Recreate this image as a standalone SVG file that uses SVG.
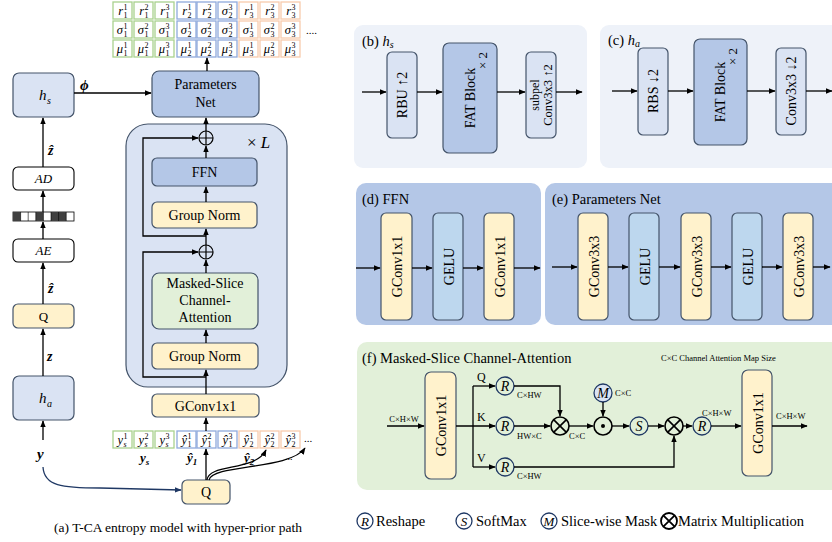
<svg xmlns="http://www.w3.org/2000/svg" width="832" height="542" viewBox="0 0 832 542">
<defs>
<marker id="ah" viewBox="0 0 10 10" refX="9" refY="5" markerWidth="7" markerHeight="7" markerUnits="userSpaceOnUse" orient="auto"><path d="M0,1 L10,5 L0,9 z" fill="#000"/></marker>
<marker id="ahb" viewBox="0 0 10 10" refX="9" refY="5" markerWidth="7" markerHeight="7" markerUnits="userSpaceOnUse" orient="auto"><path d="M0,1 L10,5 L0,9 z" fill="#1f3864"/></marker>
<style>
text{font-family:"Liberation Serif","Times New Roman",serif;fill:#000}
.ln{stroke:#000;stroke-width:1.3;fill:none}
.ar{marker-end:url(#ah)}
.lb{fill:#dae3f3;stroke:#44546a;stroke-width:1.2}
.mb{fill:#b4c7e7;stroke:#44546a;stroke-width:1.2}
.yl{fill:#fff2cc;stroke:#44546a;stroke-width:1.2}
.gr{fill:#e2f0d9;stroke:#44546a;stroke-width:1.2}
.ge{fill:#bdd7ee;stroke:#44546a;stroke-width:1.2}
.wh{fill:#fff;stroke:#000;stroke-width:1.1}
.t14{font-size:14px;text-anchor:middle}
.t13{font-size:13px;text-anchor:middle}
.it{font-style:italic}
.bi{font-style:italic;font-weight:bold}
.cg{fill:#fff;stroke:#a9d18e;stroke-width:1.3}
.cb{fill:#fff;stroke:#8faadc;stroke-width:1.3}
.co{fill:#fff;stroke:#f8cbad;stroke-width:1.3}
.L{font-size:12.5px;font-style:italic;text-anchor:end}
.ix{font-size:8px}
.sm{font-size:8.5px}
.rc{fill:none;stroke:#1f3864;stroke-width:1.3}
.title{font-size:14.5px}
</style>
</defs>

<!-- ===== (a) left column ===== -->
<g id="hs"><rect class="lb" x="13" y="73" width="61" height="44" rx="6"/><text x="39" y="100" font-size="15" class="it">h</text><text x="47" y="104" font-size="10" class="it">s</text></g>
<g id="AD"><rect class="wh" x="13" y="167" width="61" height="23" rx="5"/><text x="43.5" y="183" class="t13 it">AD</text></g>
<g id="bitstream">
<rect x="13" y="212" width="61" height="9" fill="#fff" stroke="#000" stroke-width="0.8"/>
<rect x="13" y="212" width="7.6" height="9" fill="#404040"/>
<rect x="35.8" y="212" width="7.6" height="9" fill="#404040"/>
<rect x="51" y="212" width="15.2" height="9" fill="#404040"/>
<path d="M20.6,212V221M28.2,212V221M35.8,212V221M43.4,212V221M51,212V221M58.6,212V221M66.2,212V221" stroke="#000" stroke-width="0.6"/>
</g>
<g id="AE"><rect class="wh" x="13" y="239" width="61" height="23" rx="5"/><text x="43.5" y="255" class="t13 it">AE</text></g>
<g id="Qz"><rect class="yl" x="13" y="304" width="61" height="24" rx="5"/><text x="43.5" y="321" class="t13">Q</text></g>
<g id="ha"><rect class="lb" x="13" y="376" width="61" height="44" rx="6"/><text x="39" y="403" font-size="15" class="it">h</text><text x="47" y="407" font-size="10" class="it">a</text></g>
<g id="labels-left">
<text x="48" y="155" font-size="14" class="bi">ẑ</text>
<text x="48" y="293" font-size="14" class="bi">ẑ</text>
<text x="47" y="361" font-size="14" class="bi">z</text>
<text x="37" y="459" font-size="15" class="bi">y</text>
<text x="80" y="90" font-size="15" class="bi">ϕ</text>
</g>

<!-- ===== (a) transformer stack ===== -->
<g id="stack"><rect x="126" y="124" width="161" height="263" rx="22" fill="#dae3f3" stroke="#44546a" stroke-width="1.2"/><text x="247" y="148" font-size="17">× <tspan class="it">L</tspan></text></g>
<g id="PN"><rect class="mb" x="152" y="71" width="107" height="46" rx="7"/><text x="205.5" y="89" class="t14">Parameters</text><text x="205.5" y="107" class="t14">Net</text></g>
<g id="FFN"><rect class="mb" x="152" y="158" width="105" height="28" rx="5"/><text x="204.5" y="177" class="t14">FFN</text></g>
<g id="GN1"><rect class="yl" x="152" y="202" width="105" height="26" rx="5"/><text x="204.5" y="220" class="t14">Group Norm</text></g>
<g id="MSCA"><rect class="gr" x="152" y="273" width="106" height="56" rx="7"/><text x="205" y="288" class="t14">Masked-Slice</text><text x="205" y="305" class="t14">Channel-</text><text x="205" y="322" class="t14">Attention</text></g>
<g id="GN2"><rect class="yl" x="152" y="343" width="106" height="26" rx="5"/><text x="205" y="361" class="t14">Group Norm</text></g>
<g id="GConvA"><rect class="yl" x="152" y="394" width="107" height="23" rx="5"/><text x="205.5" y="411" class="t14">GConv1x1</text></g>
<g id="add1"><circle cx="206" cy="138" r="7" fill="#dae3f3" stroke="#000" stroke-width="1.2"/><path d="M199,138H213M206,131V145" stroke="#000" stroke-width="1.2"/></g>
<g id="add2"><circle cx="206" cy="252" r="7" fill="#dae3f3" stroke="#000" stroke-width="1.2"/><path d="M199,252H213M206,245V259" stroke="#000" stroke-width="1.2"/></g>
<g id="Qy"><rect class="yl" x="182" y="480" width="48" height="24" rx="5"/><text x="206" y="497" class="t14">Q</text></g>

<!-- ===== parameter matrix ===== -->
<g id="matrix">
<rect class="cg" x="113" y="2" width="19" height="17"/><rect class="cg" x="134" y="2" width="19" height="17"/><rect class="cg" x="155" y="2" width="19" height="17"/>
<rect class="cb" x="177" y="2" width="19" height="17"/><rect class="cb" x="197" y="2" width="19" height="17"/><rect class="cb" x="218" y="2" width="19" height="17"/>
<rect class="co" x="239" y="2" width="19" height="17"/><rect class="co" x="260" y="2" width="19" height="17"/><rect class="co" x="281" y="2" width="19" height="17"/>
<rect class="cg" x="113" y="21" width="19" height="17"/><rect class="cg" x="134" y="21" width="19" height="17"/><rect class="cg" x="155" y="21" width="19" height="17"/>
<rect class="cb" x="177" y="21" width="19" height="17"/><rect class="cb" x="197" y="21" width="19" height="17"/><rect class="cb" x="218" y="21" width="19" height="17"/>
<rect class="co" x="239" y="21" width="19" height="17"/><rect class="co" x="260" y="21" width="19" height="17"/><rect class="co" x="281" y="21" width="19" height="17"/>
<rect class="cg" x="113" y="40" width="19" height="17"/><rect class="cg" x="134" y="40" width="19" height="17"/><rect class="cg" x="155" y="40" width="19" height="17"/>
<rect class="cb" x="177" y="40" width="19" height="17"/><rect class="cb" x="197" y="40" width="19" height="17"/><rect class="cb" x="218" y="40" width="19" height="17"/>
<rect class="co" x="239" y="40" width="19" height="17"/><rect class="co" x="260" y="40" width="19" height="17"/><rect class="co" x="281" y="40" width="19" height="17"/>
<!-- row 1 -->
<text class="L" x="123" y="15">r</text><text class="ix" x="123.5" y="10">1</text><text class="ix" x="123.5" y="18">1</text>
<text class="L" x="144" y="15">r</text><text class="ix" x="144.5" y="10">2</text><text class="ix" x="144.5" y="18">1</text>
<text class="L" x="165" y="15">r</text><text class="ix" x="165.5" y="10">3</text><text class="ix" x="165.5" y="18">1</text>
<text class="L" x="187" y="15">r</text><text class="ix" x="187.5" y="10">1</text><text class="ix" x="187.5" y="18">2</text>
<text class="L" x="207" y="15">r</text><text class="ix" x="207.5" y="10">2</text><text class="ix" x="207.5" y="18">2</text>
<text class="L" x="228" y="15">σ</text><text class="ix" x="228.5" y="10">3</text><text class="ix" x="228.5" y="18">2</text>
<text class="L" x="249" y="15">r</text><text class="ix" x="249.5" y="10">1</text><text class="ix" x="249.5" y="18">3</text>
<text class="L" x="270" y="15">r</text><text class="ix" x="270.5" y="10">2</text><text class="ix" x="270.5" y="18">3</text>
<text class="L" x="291" y="15">r</text><text class="ix" x="291.5" y="10">3</text><text class="ix" x="291.5" y="18">3</text>
<!-- row 2 -->
<text class="L" x="123" y="34">σ</text><text class="ix" x="123.5" y="29">1</text><text class="ix" x="123.5" y="37">1</text>
<text class="L" x="144" y="34">σ</text><text class="ix" x="144.5" y="29">2</text><text class="ix" x="144.5" y="37">1</text>
<text class="L" x="165" y="34">σ</text><text class="ix" x="165.5" y="29">3</text><text class="ix" x="165.5" y="37">1</text>
<text class="L" x="187" y="34">σ</text><text class="ix" x="187.5" y="29">1</text><text class="ix" x="187.5" y="37">2</text>
<text class="L" x="207" y="34">σ</text><text class="ix" x="207.5" y="29">2</text><text class="ix" x="207.5" y="37">2</text>
<text class="L" x="228" y="34">σ</text><text class="ix" x="228.5" y="29">3</text><text class="ix" x="228.5" y="37">2</text>
<text class="L" x="249" y="34">σ</text><text class="ix" x="249.5" y="29">1</text><text class="ix" x="249.5" y="37">3</text>
<text class="L" x="270" y="34">σ</text><text class="ix" x="270.5" y="29">2</text><text class="ix" x="270.5" y="37">3</text>
<text class="L" x="291" y="34">σ</text><text class="ix" x="291.5" y="29">3</text><text class="ix" x="291.5" y="37">3</text>
<!-- row 3 -->
<text class="L" x="123" y="53">μ</text><text class="ix" x="123.5" y="48">1</text><text class="ix" x="123.5" y="56">1</text>
<text class="L" x="144" y="53">μ</text><text class="ix" x="144.5" y="48">2</text><text class="ix" x="144.5" y="56">1</text>
<text class="L" x="165" y="53">μ</text><text class="ix" x="165.5" y="48">3</text><text class="ix" x="165.5" y="56">1</text>
<text class="L" x="187" y="53">μ</text><text class="ix" x="187.5" y="48">1</text><text class="ix" x="187.5" y="56">2</text>
<text class="L" x="207" y="53">μ</text><text class="ix" x="207.5" y="48">2</text><text class="ix" x="207.5" y="56">2</text>
<text class="L" x="228" y="53">μ</text><text class="ix" x="228.5" y="48">3</text><text class="ix" x="228.5" y="56">2</text>
<text class="L" x="249" y="53">μ</text><text class="ix" x="249.5" y="48">1</text><text class="ix" x="249.5" y="56">3</text>
<text class="L" x="270" y="53">μ</text><text class="ix" x="270.5" y="48">2</text><text class="ix" x="270.5" y="56">3</text>
<text class="L" x="291" y="53">μ</text><text class="ix" x="291.5" y="48">3</text><text class="ix" x="291.5" y="56">3</text>
<text x="306" y="34" font-size="11">....</text>
</g>

<!-- ===== latent slices row ===== -->
<g id="slices">
<rect class="cg" x="113" y="431" width="19" height="17"/><rect class="cg" x="134" y="431" width="19" height="17"/><rect class="cg" x="155" y="431" width="19" height="17"/>
<rect class="cb" x="177" y="431" width="19" height="17"/><rect class="cb" x="197" y="431" width="19" height="17"/><rect class="cb" x="218" y="431" width="19" height="17"/>
<rect class="co" x="239" y="431" width="19" height="17"/><rect class="co" x="260" y="431" width="19" height="17"/><rect class="co" x="281" y="431" width="19" height="17"/>
<text class="L" x="123" y="444">y</text><text class="ix" x="123.5" y="439">1</text><text class="ix it" x="123.5" y="446.5">s</text>
<text class="L" x="144" y="444">y</text><text class="ix" x="144.5" y="439">2</text><text class="ix it" x="144.5" y="446.5">s</text>
<text class="L" x="165" y="444">y</text><text class="ix" x="165.5" y="439">3</text><text class="ix it" x="165.5" y="446.5">s</text>
<text class="L" x="187" y="444">ŷ</text><text class="ix" x="187.5" y="439">1</text><text class="ix" x="187.5" y="446.5">1</text>
<text class="L" x="207" y="444">ŷ</text><text class="ix" x="207.5" y="439">2</text><text class="ix" x="207.5" y="446.5">1</text>
<text class="L" x="228" y="444">ŷ</text><text class="ix" x="228.5" y="439">3</text><text class="ix" x="228.5" y="446.5">1</text>
<text class="L" x="249" y="444">ŷ</text><text class="ix" x="249.5" y="439">1</text><text class="ix" x="249.5" y="446.5">2</text>
<text class="L" x="270" y="444">ŷ</text><text class="ix" x="270.5" y="439">2</text><text class="ix" x="270.5" y="446.5">2</text>
<text class="L" x="291" y="444">ŷ</text><text class="ix" x="291.5" y="439">3</text><text class="ix" x="291.5" y="446.5">2</text>
<text x="304" y="442" font-size="11">...</text>
<text x="140" y="462" font-size="13" class="bi">y<tspan font-size="9" dy="3">s</tspan></text>
<text x="187" y="462" font-size="13" class="bi">ŷ<tspan font-size="9" dy="3">1</tspan></text>
<text x="244" y="462" font-size="13" class="bi">ŷ<tspan font-size="9" dy="3">2</tspan></text>
<text x="285" y="460" font-size="10">...</text>
</g>

<text x="178" y="532" font-size="13.5" text-anchor="middle">(a) T-CA entropy model with hyper-prior path</text>

<!-- ===== (b) h_s ===== -->
<g id="panel-b">
<rect x="354" y="25" width="233" height="143" rx="9" fill="#eef2f9"/>
<text x="362" y="46" class="title">(b) <tspan class="it">h</tspan><tspan class="it" font-size="10" dy="2">s</tspan></text>
</g>
<g id="RBU"><rect class="lb" x="387" y="52" width="30" height="86" rx="5"/><text transform="rotate(-90 402 95)" x="402" y="100" class="t14">RBU ↑2</text></g>
<g id="FATb"><rect class="mb" x="443" y="43" width="54" height="110" rx="6"/><text transform="rotate(-90 470 98)" x="470" y="103" class="t14" font-size="15">FAT Block</text><text transform="rotate(-90 487 52)" x="487" y="52" font-size="13" text-anchor="end" font-family="Liberation Sans,sans-serif">× 2</text></g>
<g id="subpel"><rect class="lb" x="526" y="52" width="30" height="86" rx="5"/><text transform="rotate(-90 541 95)" x="541" y="93" font-size="12" text-anchor="middle">subpel</text><text transform="rotate(-90 541 95)" x="541" y="106" font-size="12.5" text-anchor="middle">Conv3x3 ↑2</text></g>

<!-- ===== (c) h_a ===== -->
<g id="panel-c">
<rect x="600" y="25" width="240" height="143" rx="9" fill="#eef2f9"/>
<text x="608" y="45" class="title">(c) <tspan class="it">h</tspan><tspan class="it" font-size="10" dy="2">a</tspan></text>
</g>
<g id="RBS"><rect class="lb" x="638" y="48" width="30" height="87" rx="5"/><text transform="rotate(-90 653 91)" x="653" y="96" class="t14">RBS ↓2</text></g>
<g id="FATc"><rect class="mb" x="694" y="39" width="53" height="106" rx="6"/><text transform="rotate(-90 720 92)" x="720" y="97" class="t14" font-size="15">FAT Block</text><text transform="rotate(-90 737 48)" x="737" y="48" font-size="13" text-anchor="end" font-family="Liberation Sans,sans-serif">× 2</text></g>
<g id="Conv3x3d"><rect class="lb" x="776" y="48" width="30" height="87" rx="5"/><text transform="rotate(-90 791 91)" x="791" y="96" class="t14">Conv3x3 ↓2</text></g>

<!-- ===== (d) FFN ===== -->
<g id="panel-d">
<rect x="356" y="183" width="185" height="142" rx="10" fill="#b4c7e7"/>
<text x="362" y="204" class="title">(d) FFN</text>
</g>
<g id="d-gc1"><rect class="yl" x="381" y="213" width="31" height="107" rx="5"/><text transform="rotate(-90 396.5 266.5)" x="396.5" y="272" class="t14" font-size="15">GConv1x1</text></g>
<g id="d-gelu"><rect class="ge" x="433" y="213" width="30" height="107" rx="5"/><text transform="rotate(-90 448 266.5)" x="448" y="272" class="t14" font-size="15">GELU</text></g>
<g id="d-gc2"><rect class="yl" x="484" y="213" width="30" height="107" rx="5"/><text transform="rotate(-90 499 266.5)" x="499" y="272" class="t14" font-size="15">GConv1x1</text></g>

<!-- ===== (e) Parameters Net ===== -->
<g id="panel-e">
<rect x="545" y="183" width="297" height="142" rx="10" fill="#b4c7e7"/>
<text x="552" y="204" class="title">(e) Parameters Net</text>
</g>
<g id="e-gc1"><rect class="yl" x="578" y="213" width="30" height="107" rx="5"/><text transform="rotate(-90 593 266.5)" x="593" y="272" class="t14" font-size="15">GConv3x3</text></g>
<g id="e-gelu1"><rect class="ge" x="629" y="213" width="30" height="107" rx="5"/><text transform="rotate(-90 644 266.5)" x="644" y="272" class="t14" font-size="15">GELU</text></g>
<g id="e-gc2"><rect class="yl" x="681" y="213" width="30" height="107" rx="5"/><text transform="rotate(-90 696 266.5)" x="696" y="272" class="t14" font-size="15">GConv3x3</text></g>
<g id="e-gelu2"><rect class="ge" x="732" y="213" width="30" height="107" rx="5"/><text transform="rotate(-90 747 266.5)" x="747" y="272" class="t14" font-size="15">GELU</text></g>
<g id="e-gc3"><rect class="yl" x="783" y="213" width="30" height="107" rx="5"/><text transform="rotate(-90 798 266.5)" x="798" y="272" class="t14" font-size="15">GConv3x3</text></g>

<!-- ===== (f) MSCA ===== -->
<g id="panel-f">
<rect x="357" y="342" width="485" height="148" rx="10" fill="#e2f0d9"/>
<text x="362" y="363" class="title">(f) Masked-Slice Channel-Attention</text>
<text x="661" y="361" class="sm">C×C  Channel Attention Map Size</text>
</g>
<g id="f-gc1"><rect class="yl" x="425" y="372" width="31" height="107" rx="6"/><text transform="rotate(-90 440.5 425.5)" x="440.5" y="431" class="t14" font-size="15">GConv1x1</text></g>
<g id="f-gc2"><rect class="yl" x="742" y="370" width="30" height="106" rx="6"/><text transform="rotate(-90 757 423)" x="757" y="428.5" class="t14" font-size="15">GConv1x1</text></g>
<g id="Rq"><circle class="rc" cx="505" cy="386" r="9"/><text x="505" y="391" class="t14 it">R</text></g>
<g id="Rk"><circle class="rc" cx="505" cy="426" r="9"/><text x="505" y="431" class="t14 it">R</text></g>
<g id="Rv"><circle class="rc" cx="505" cy="467" r="9"/><text x="505" y="472" class="t14 it">R</text></g>
<g id="mm1"><circle cx="560" cy="426" r="9" fill="none" stroke="#000" stroke-width="1.6"/><path d="M553.6,419.6L566.4,432.4M566.4,419.6L553.6,432.4" stroke="#000" stroke-width="1.6"/></g>
<g id="Mm"><circle cx="603" cy="393" r="9" fill="#dae3f3" stroke="#1f3864" stroke-width="1.3"/><text x="603" y="398" class="t14 it">M</text></g>
<g id="odot"><circle cx="603" cy="426" r="9" fill="none" stroke="#000" stroke-width="1.6"/><circle cx="603" cy="426" r="2" fill="#000"/></g>
<g id="Ss"><circle class="rc" cx="639" cy="426" r="9"/><text x="639" y="431" class="t14 it">S</text></g>
<g id="mm2"><circle cx="674" cy="426" r="9" fill="none" stroke="#000" stroke-width="1.6"/><path d="M667.6,419.6L680.4,432.4M680.4,419.6L667.6,432.4" stroke="#000" stroke-width="1.6"/></g>
<g id="Ro"><circle class="rc" cx="702" cy="426" r="9"/><text x="702" y="431" class="t14 it">R</text></g>
<g id="f-labels">
<text x="404" y="422" class="sm" text-anchor="middle">C×H×W</text>
<text x="477" y="381" font-size="12">Q</text>
<text x="477" y="421" font-size="12">K</text>
<text x="477" y="462" font-size="12">V</text>
<text x="517" y="398" class="sm">C×HW</text>
<text x="517" y="439" class="sm">HW×C</text>
<text x="569" y="439" class="sm">C×C</text>
<text x="517" y="479" class="sm">C×HW</text>
<text x="615" y="396" class="sm">C×C</text>
<text x="702" y="416" class="sm">C×H×W</text>
<text x="776" y="419" class="sm">C×H×W</text>
</g>

<!-- ===== legend ===== -->
<g id="legend">
<circle class="rc" cx="365" cy="521" r="8"/><text x="365" y="526" class="t13 it">R</text><text x="376" y="526" font-size="14.5">Reshape</text>
<circle class="rc" cx="464" cy="521" r="8"/><text x="464" y="526" class="t13 it">S</text><text x="476" y="526" font-size="14.5">SoftMax</text>
<circle class="rc" cx="549" cy="521" r="8"/><text x="549" y="526" class="t13 it">M</text><text x="561" y="526" font-size="14.5">Slice-wise Mask</text>
<circle cx="669" cy="521" r="8" fill="none" stroke="#000" stroke-width="1.8"/><path d="M663.3,515.3L674.7,526.7M674.7,515.3L663.3,526.7" stroke="#000" stroke-width="1.8"/><text x="678" y="526" font-size="14.5">Matrix Multiplication</text>
</g>

<!-- ===== connectors ===== -->
<g id="connectors">
<path class="ln ar" d="M74,93H151"/>
<path class="ln ar" d="M43,167V118"/>
<path class="ln ar" d="M43,212V191"/>
<path class="ln ar" d="M43,239V222"/>
<path class="ln ar" d="M43,304V263"/>
<path class="ln ar" d="M43,376V329"/>
<path class="ln ar" d="M43,440V421"/>
<path d="M43,467C44,486 62,488 100,488L181,490" fill="none" stroke="#1f3864" stroke-width="1.3" marker-end="url(#ahb)"/>
<path class="ln ar" d="M206,394V370"/>
<path class="ln ar" d="M206,343V330"/>
<path class="ln ar" d="M206,273V260"/>
<path class="ln ar" d="M206,245V229"/>
<path class="ln ar" d="M206,202V187"/>
<path class="ln ar" d="M206,158V146"/>
<path class="ln ar" d="M206,131V118"/>
<path class="ln ar" d="M207,71V58"/>
<path class="ln ar" d="M206,236H143V138H198"/>
<path class="ln ar" d="M206,377H143V252H198"/>
<path class="ln ar" d="M206,431V418"/>
<path class="ln ar" d="M206,480V449"/>
<path class="ln ar" d="M207,480C209,463 255,472 266,450"/>
<path class="ln ar" d="M209,480C213,464 290,470 305,448"/>
<!-- b -->
<path class="ln ar" d="M362,92H386"/>
<path class="ln ar" d="M417,92H442"/>
<path class="ln ar" d="M497,92H525"/>
<path class="ln ar" d="M556,92H582"/>
<!-- c -->
<path class="ln ar" d="M612,91H637"/>
<path class="ln ar" d="M668,91H693"/>
<path class="ln ar" d="M747,91H775"/>
<path class="ln ar" d="M806,91H832"/>
<!-- d -->
<path class="ln ar" d="M356,268H380"/>
<path class="ln ar" d="M412,268H432"/>
<path class="ln ar" d="M463,268H483"/>
<path class="ln ar" d="M514,268H540"/>
<!-- e -->
<path class="ln ar" d="M552,267H577"/>
<path class="ln ar" d="M608,267H628"/>
<path class="ln ar" d="M659,267H680"/>
<path class="ln ar" d="M711,267H731"/>
<path class="ln ar" d="M762,267H782"/>
<path class="ln ar" d="M813,267H830"/>
<!-- f -->
<path class="ln ar" d="M387,426H424"/>
<path class="ln ar" d="M456,426H495"/>
<path class="ln" d="M473,386V467"/>
<path class="ln ar" d="M473,386H495"/>
<path class="ln ar" d="M473,467H495"/>
<path class="ln ar" d="M514,386H560V416"/>
<path class="ln ar" d="M514,426H550"/>
<path class="ln ar" d="M569,426H593"/>
<path class="ln ar" d="M603,402V416"/>
<path class="ln ar" d="M612,426H629"/>
<path class="ln ar" d="M648,426H664"/>
<path class="ln ar" d="M514,467H674V436"/>
<path class="ln ar" d="M683,426H692"/>
<path class="ln ar" d="M711,426H741"/>
<path class="ln ar" d="M772,426H807"/>
</g>
</svg>
